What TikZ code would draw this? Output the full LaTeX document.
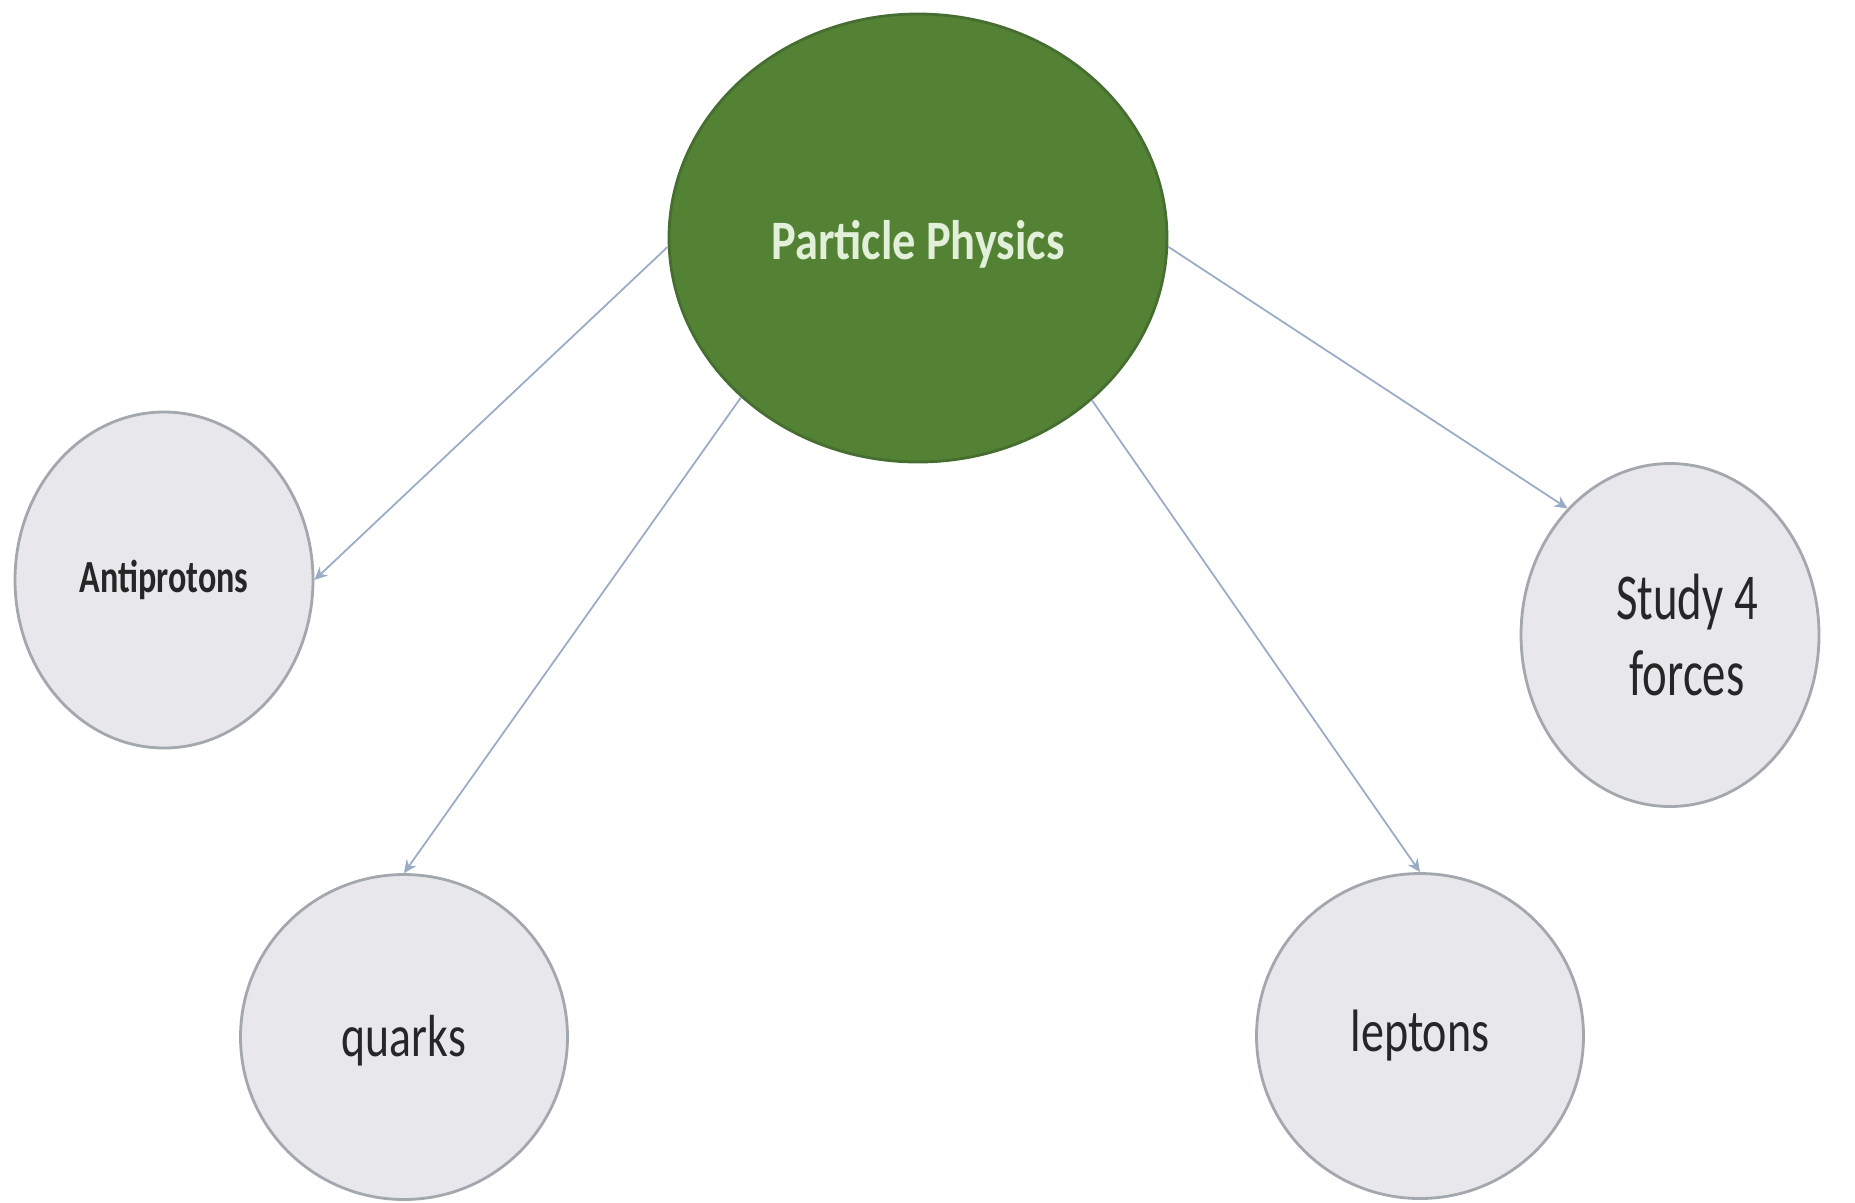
\documentclass[tikz,border=0pt]{standalone}
\usepackage{fontspec}
\setmainfont{Carlito}
\usepackage{xcolor}
\usetikzlibrary{arrows.meta,shapes.geometric}

\definecolor{hubfill}{HTML}{548235}
\definecolor{hubdraw}{HTML}{456E30}
\definecolor{hubtext}{HTML}{E2EFD9}
\definecolor{leaffill}{HTML}{E8E7EB}
\definecolor{leafdraw}{HTML}{A3A7AE}
\definecolor{linkblue}{HTML}{9AABC6}
\newcommand{\tallify}[2]{\scalebox{1}[#1]{#2}}
% pushes the text down by half of #1
\newcommand{\nudge}[2]{\raisebox{0pt}[\dimexpr\height+#1\relax][\depth]{#2}}

\begin{document}
\begin{tikzpicture}[x=0.1mm,y=-0.1mm,
    hub/.style={ellipse,draw=hubdraw,fill=hubfill,line width=0.8pt,inner sep=0pt,text=hubtext},
    leaf/.style={ellipse,draw=leafdraw,fill=leaffill,line width=0.8pt,inner sep=0pt,text=black!85},
    link/.style={draw=linkblue,line width=0.5pt,-{Stealth[length=1.3mm,width=1.2mm]}}]
    \useasboundingbox (0,0) rectangle (1855,1202);
    % centre topic
    \node[hub,minimum width=49.8mm,minimum height=44.8mm] (pp) at (918,238)
        {\nudge{1.2mm}{\tallify{1.2}{\fontsize{13.2}{16}\selectfont\bfseries Particle Physics}}};
    % sub topics
    \node[leaf,minimum width=29.8mm,minimum height=33.6mm] (anti) at (164,580)
        {\tallify{1.35}{\fontsize{9.7}{12}\selectfont\bfseries Antiprotons}};
    \node[leaf,minimum width=32.7mm,minimum height=32.5mm] (quarks) at (404,1037)
        {\nudge{0.7mm}{\tallify{1.3}{\fontsize{13}{16}\selectfont quarks}}};
    \node[leaf,minimum width=32.7mm,minimum height=32.5mm] (leptons) at (1420,1036)
        {\tallify{1.3}{\fontsize{13.1}{16}\selectfont leptons}};
    \node[leaf,minimum width=29.8mm,minimum height=34.3mm] (forces) at (1670,635)
        {\hspace*{3.4mm}\nudge{1.4mm}{\tallify{1.4}{\fontsize{13.3}{15.4}\selectfont\begin{tabular}{@{}c@{}}Study 4\\forces\end{tabular}}}};
    % links
    \draw[link] (pp.182) -- (anti.east);
    \draw[link] (pp.222) -- (quarks.north);
    \draw[link] (pp.317) -- (leptons.north);
    \draw[link] (pp.358) -- (forces.129);
\end{tikzpicture}
\end{document}
